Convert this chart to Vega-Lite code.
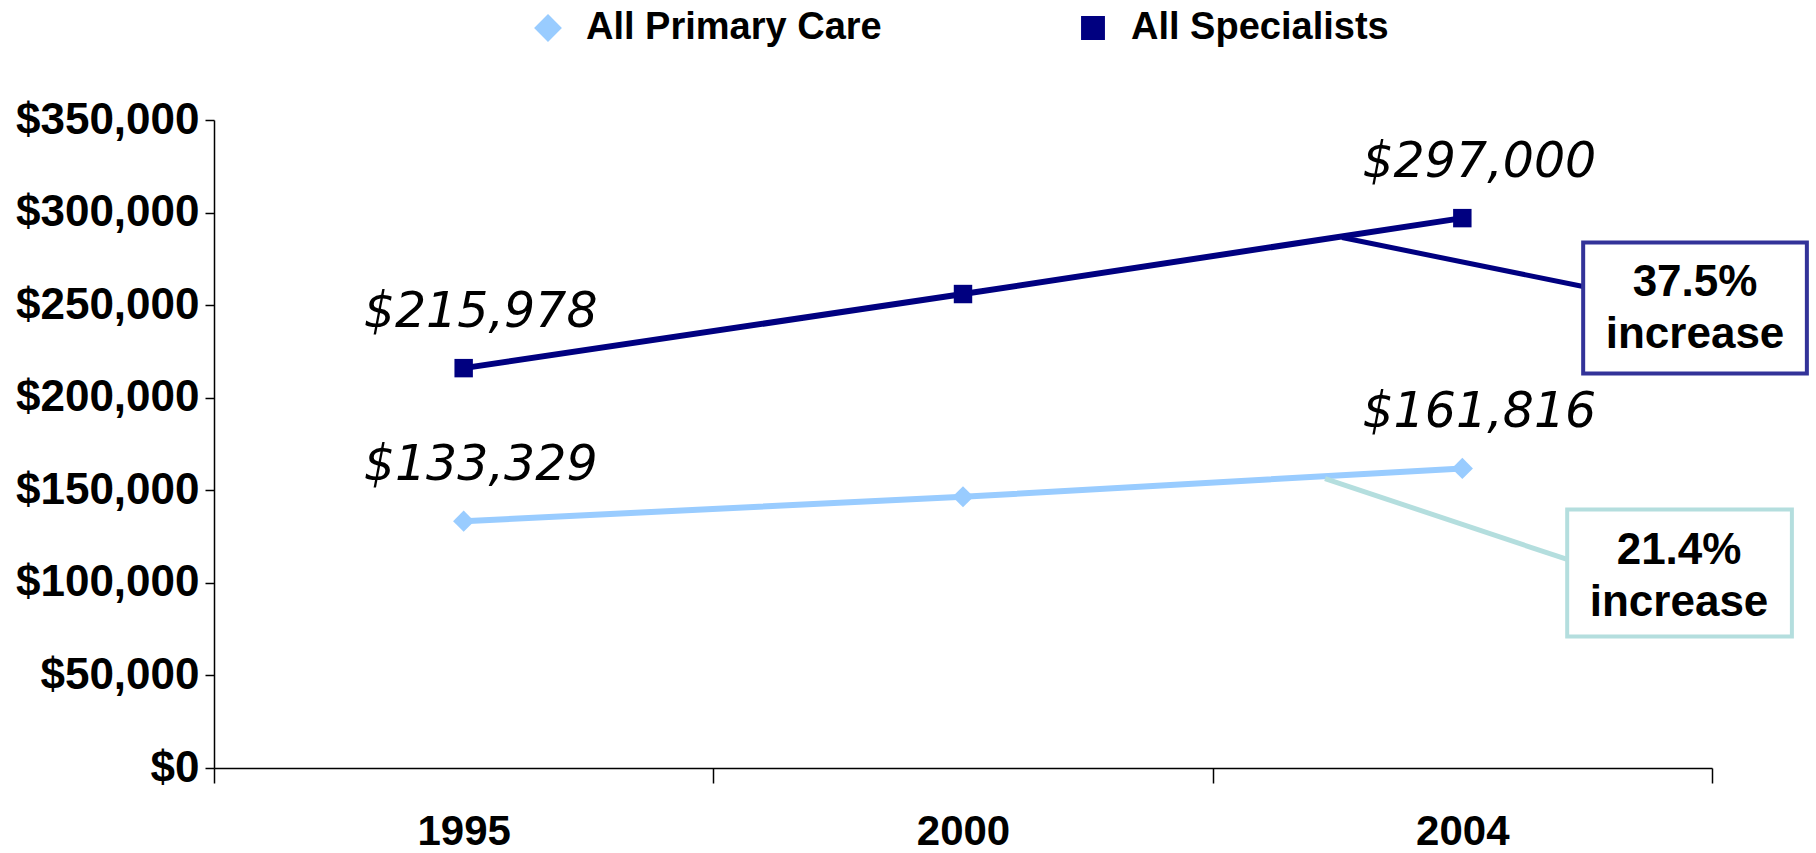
{
  "$schema": "https://vega.github.io/schema/vega-lite/v6.json",
  "width": 1498,
  "height": 648,
  "autosize": {"type": "none"},
  "padding": {"left": 214, "top": 120, "right": 104, "bottom": 85},
  "background": "white",
  "config": {"view": {"stroke": null}, "font": "Liberation Sans"},
  "datasets": {
    "main": [
      {"idx": 0.5, "year": "1995", "series": "All Primary Care", "value": 133329, "label": "$133,329"},
      {"idx": 1.5, "year": "2000", "series": "All Primary Care", "value": 146500, "label": null},
      {"idx": 2.5, "year": "2004", "series": "All Primary Care", "value": 161816, "label": "$161,816"},
      {"idx": 0.5, "year": "1995", "series": "All Specialists", "value": 215978, "label": "$215,978"},
      {"idx": 1.5, "year": "2000", "series": "All Specialists", "value": 256000, "label": null},
      {"idx": 2.5, "year": "2004", "series": "All Specialists", "value": 297000, "label": "$297,000"}
    ]
  },
  "layer": [
    {
      "data": {"name": "main"},
      "mark": {"type": "line", "strokeWidth": 6},
      "encoding": {
        "x": {
          "field": "idx", "type": "quantitative",
          "scale": {"domain": [0, 3], "nice": false, "zero": false},
          "axis": {
            "title": null,
            "values": [0, 0.5, 1, 1.5, 2, 2.5, 3],
            "labelExpr": "datum.value == 0.5 ? '1995' : datum.value == 1.5 ? '2000' : datum.value == 2.5 ? '2004' : ''",
            "grid": false,
            "domainColor": "black", "domainWidth": 1.5,
            "tickColor": "black", "tickWidth": 1.5, "tickSize": 15,
            "tickOpacity": {"condition": {"test": "datum.value % 1 != 0", "value": 0}, "value": 1},
            "labelFontSize": 42, "labelFontWeight": "bold", "labelColor": "black",
            "labelFont": "Liberation Sans",
            "labelPadding": 28, "labelFlush": false, "labelOverlap": false
          }
        },
        "y": {
          "field": "value", "type": "quantitative",
          "scale": {"domain": [0, 350000], "nice": false},
          "axis": {
            "title": null,
            "values": [0, 50000, 100000, 150000, 200000, 250000, 300000, 350000],
            "format": "$,.0f",
            "grid": false,
            "domainColor": "black", "domainWidth": 1.5,
            "tickColor": "black", "tickWidth": 1.5, "tickSize": 9,
            "labelFontSize": 44, "labelFontWeight": "bold", "labelColor": "black",
            "labelFont": "Liberation Sans",
            "labelLimit": 0,
            "labelPadding": 6
          }
        },
        "color": {
          "field": "series", "type": "nominal",
          "scale": {"domain": ["All Primary Care", "All Specialists"], "range": ["#99CCFF", "#000080"]},
          "legend": {
            "title": null,
            "orient": "none",
            "direction": "horizontal",
            "legendX": 315,
            "legendY": -111,
            "labelFontSize": 38,
            "labelFontWeight": "bold",
            "labelColor": "black",
            "labelFont": "Liberation Sans",
            "labelLimit": 0,
            "labelOffset": 19,
            "columnPadding": 192,
            "symbolSize": 500,
            "symbolOpacity": 1
          }
        }
      }
    },
    {
      "data": {"name": "main"},
      "mark": {"type": "point", "filled": true, "opacity": 1, "size": 340},
      "encoding": {
        "x": {"field": "idx", "type": "quantitative"},
        "y": {"field": "value", "type": "quantitative"},
        "color": {"field": "series", "type": "nominal"},
        "shape": {
          "field": "series", "type": "nominal",
          "scale": {"domain": ["All Primary Care", "All Specialists"], "range": ["M0,-1.15L1.15,0L0,1.15L-1.15,0Z", "square"]},
          "legend": null
        }
      }
    },
    {
      "data": {"name": "main"},
      "transform": [{"filter": "datum.label != null"}],
      "mark": {"type": "text", "font": "DejaVu Sans", "fontStyle": "italic", "fontSize": 49, "color": "black", "dx": 17, "dy": -56, "baseline": "middle", "align": "center"},
      "encoding": {
        "x": {"field": "idx", "type": "quantitative"},
        "y": {"field": "value", "type": "quantitative"},
        "text": {"field": "label"}
      }
    },
    {
      "data": {"values": [{"x1": 2.259, "x2": 2.742, "y1": 286530, "y2": 260070}]},
      "mark": {"type": "rule", "color": "#000080", "strokeWidth": 5},
      "encoding": {
        "x": {"field": "x1", "type": "quantitative"}, "x2": {"field": "x2"},
        "y": {"field": "y1", "type": "quantitative"}, "y2": {"field": "y2"}
      }
    },
    {
      "data": {"values": [{"x1": 2.225, "x2": 2.71, "y1": 156360, "y2": 112620}]},
      "mark": {"type": "rule", "color": "#B4DEDE", "strokeWidth": 5},
      "encoding": {
        "x": {"field": "x1", "type": "quantitative"}, "x2": {"field": "x2"},
        "y": {"field": "y1", "type": "quantitative"}, "y2": {"field": "y2"}
      }
    },
    {
      "data": {"values": [{"x1": 2.742, "x2": 3.19, "y1": 213080, "y2": 283830}]},
      "mark": {"type": "rect", "fill": "white", "stroke": "#333399", "strokeWidth": 4},
      "encoding": {
        "x": {"field": "x1", "type": "quantitative"}, "x2": {"field": "x2"},
        "y": {"field": "y1", "type": "quantitative"}, "y2": {"field": "y2"}
      }
    },
    {
      "data": {"values": [{"x1": 2.71, "x2": 3.16, "y1": 71030, "y2": 139620}]},
      "mark": {"type": "rect", "fill": "white", "stroke": "#B4DEDE", "strokeWidth": 4},
      "encoding": {
        "x": {"field": "x1", "type": "quantitative"}, "x2": {"field": "x2"},
        "y": {"field": "y1", "type": "quantitative"}, "y2": {"field": "y2"}
      }
    },
    {
      "data": {"values": [
        {"x": 2.966, "y": 261690, "t": "37.5%\nincrease"},
        {"x": 2.934, "y": 116940, "t": "21.4%\nincrease"}
      ]},
      "mark": {"type": "text", "font": "Liberation Sans", "fontWeight": "bold", "fontSize": 44, "color": "black", "lineBreak": "\n", "lineHeight": 52, "align": "center", "baseline": "middle"},
      "encoding": {
        "x": {"field": "x", "type": "quantitative"},
        "y": {"field": "y", "type": "quantitative"},
        "text": {"field": "t"}
      }
    }
  ]
}
